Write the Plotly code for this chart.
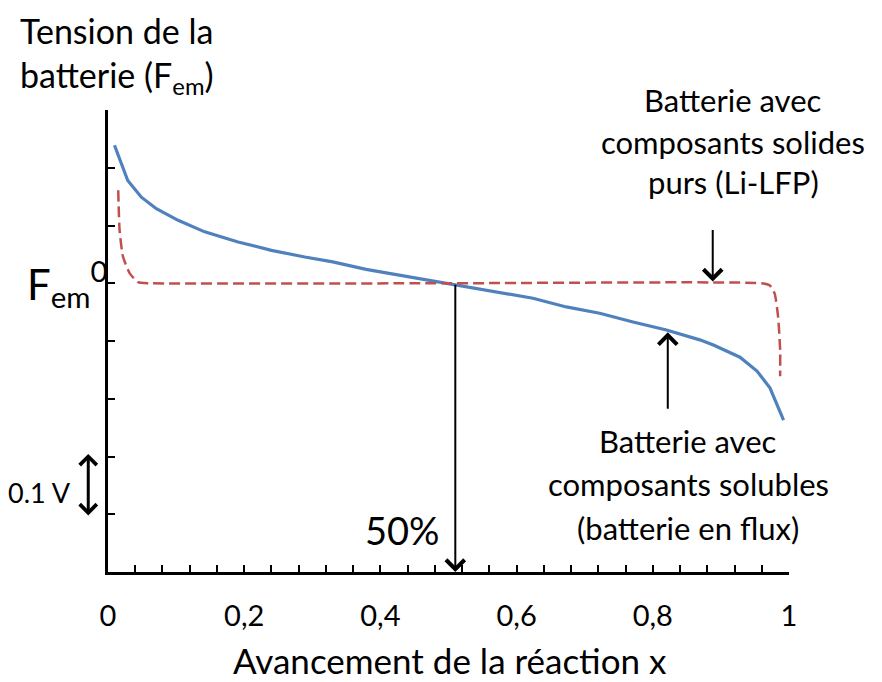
import plotly.graph_objects as go

# batterie en flux (composants solubles) - courbe bleue
x_flux = [0.0095, 0.029, 0.049, 0.071, 0.103, 0.142, 0.191, 0.240, 0.289, 0.330,
          0.379, 0.428, 0.477, 0.507, 0.575, 0.624, 0.673, 0.722, 0.771, 0.820,
          0.869, 0.889, 0.928, 0.953, 0.972, 0.992]
y_flux = [0.239, 0.178, 0.149, 0.129, 0.109, 0.089, 0.0715, 0.057, 0.0455, 0.037,
          0.024, 0.014, 0.005, -0.002, -0.016, -0.026, -0.041, -0.052, -0.067, -0.081,
          -0.098, -0.107, -0.128, -0.152, -0.181, -0.237]

# batterie Li-LFP (composants solides purs) - courbe rouge pointillee
x_solide = [0.015, 0.017, 0.022, 0.032, 0.044, 0.06, 0.5, 0.96, 0.972, 0.979, 0.984, 0.987, 0.987]
y_solide = [0.161, 0.092, 0.046, 0.017, 0.002, 0.0, 0.0, 0.0, -0.004, -0.018, -0.058, -0.116, -0.161]

x_labels_vals = [0, 0.2, 0.4, 0.6, 0.8, 1]
x_labels = ["0", "0,2", "0,4", "0,6", "0,8", "1"]

txt_solide = ["Batterie avec", "composants solides", "purs (Li-LFP)"]
txt_flux = ["Batterie avec", "composants solubles", "(batterie en flux)"]

FONT = "Lato"

fig = go.Figure()
fig.add_trace(go.Scatter(x=x_flux, y=y_flux, mode="lines",
                         line=dict(color="#4F81BD", width=3.2)))
fig.add_trace(go.Scatter(x=x_solide, y=y_solide, mode="lines",
                         line=dict(color="#C0504D", width=2.5, dash="11px,5px",
                                   shape="spline", smoothing=0.5)))

ann = []
# titre axe y
ann.append(dict(text="Tension de la", xref="paper", yref="paper", x=-0.132, y=1.173,
                xanchor="left", yanchor="middle", showarrow=False, font=dict(size=34)))
ann.append(dict(text="batterie (F<sub>em</sub>)", xref="paper", yref="paper", x=-0.132, y=1.072,
                xanchor="left", yanchor="middle", showarrow=False, font=dict(size=34)))
ann.append(dict(text="F<sub>em</sub><sup>0</sup>", xref="paper", yref="y", x=-0.06, y=0,
                xanchor="center", yanchor="middle", showarrow=False, font=dict(size=42)))
ann.append(dict(text="0.1 V", xref="paper", yref="y", x=-0.10, y=-0.362,
                xanchor="center", yanchor="middle", showarrow=False, font=dict(size=27)))
ann.append(dict(text="", xref="paper", yref="y", x=-0.029, y=-0.402, ax=0, ay=-63,
                showarrow=True, arrowhead=4, arrowside="end+start", arrowwidth=3,
                arrowsize=1.1, arrowcolor="black"))
ann.append(dict(text="50%", xref="x", yref="paper", x=0.433, y=0.09,
                xanchor="center", yanchor="middle", showarrow=False, font=dict(size=38)))
ann.append(dict(text="", x=0.51, y=-0.5, ax=0.51, ay=0, axref="x", ayref="y",
                showarrow=True, arrowhead=4, arrowsize=1.8, arrowwidth=2, arrowcolor="black"))
ann.append(dict(text="", x=0.888, y=0.003, ax=0.888, ay=0.095, axref="x", ayref="y",
                showarrow=True, arrowhead=4, arrowsize=1.8, arrowwidth=2, arrowcolor="black"))
ann.append(dict(text="", x=0.822, y=-0.085, ax=0.822, ay=-0.22, axref="x", ayref="y",
                showarrow=True, arrowhead=4, arrowsize=1.8, arrowwidth=2, arrowcolor="black"))
for t, yy in zip(txt_solide, [1.021, 0.93, 0.844]):
    ann.append(dict(text=t, x=0.918, y=yy, yref="paper", xanchor="center", yanchor="middle",
                    showarrow=False, font=dict(size=31)))
for t, yy in zip(txt_flux, [0.2825, 0.19, 0.096]):
    ann.append(dict(text=t, x=0.852, y=yy, yref="paper", xanchor="center", yanchor="middle",
                    showarrow=False, font=dict(size=31)))
ann.append(dict(text="Avancement de la réaction x", xref="paper", yref="paper",
                x=0.502, y=-0.19, xanchor="center", yanchor="middle",
                showarrow=False, font=dict(size=35)))

# la page ajoute 8 px de marge autour du graphique
fig.update_layout(
    width=874, height=674,
    margin=dict(l=100, r=93, t=102, b=110),
    paper_bgcolor="white", plot_bgcolor="white",
    showlegend=False,
    font=dict(family=FONT, color="black"),
    annotations=ann,
    xaxis=dict(range=[0, 1], showgrid=False, zeroline=False, automargin=False,
               showline=True, linecolor="black", linewidth=3,
               ticks="inside", ticklen=7, tickwidth=2, tickcolor="black",
               tickvals=x_labels_vals, ticktext=x_labels, tickfont=dict(size=29),
               ticklabelstandoff=16,
               minor=dict(dtick=0.04, ticks="inside", ticklen=7, tickwidth=2,
                          tickcolor="black", showgrid=False)),
    yaxis=dict(range=[-0.5, 0.3], showgrid=False, zeroline=False, automargin=False,
               showline=True, linecolor="black", linewidth=3,
               ticks="inside", ticklen=7, tickwidth=2, tickcolor="black",
               tick0=0, dtick=0.1, showticklabels=False),
)

fig.write_html("out.html")
